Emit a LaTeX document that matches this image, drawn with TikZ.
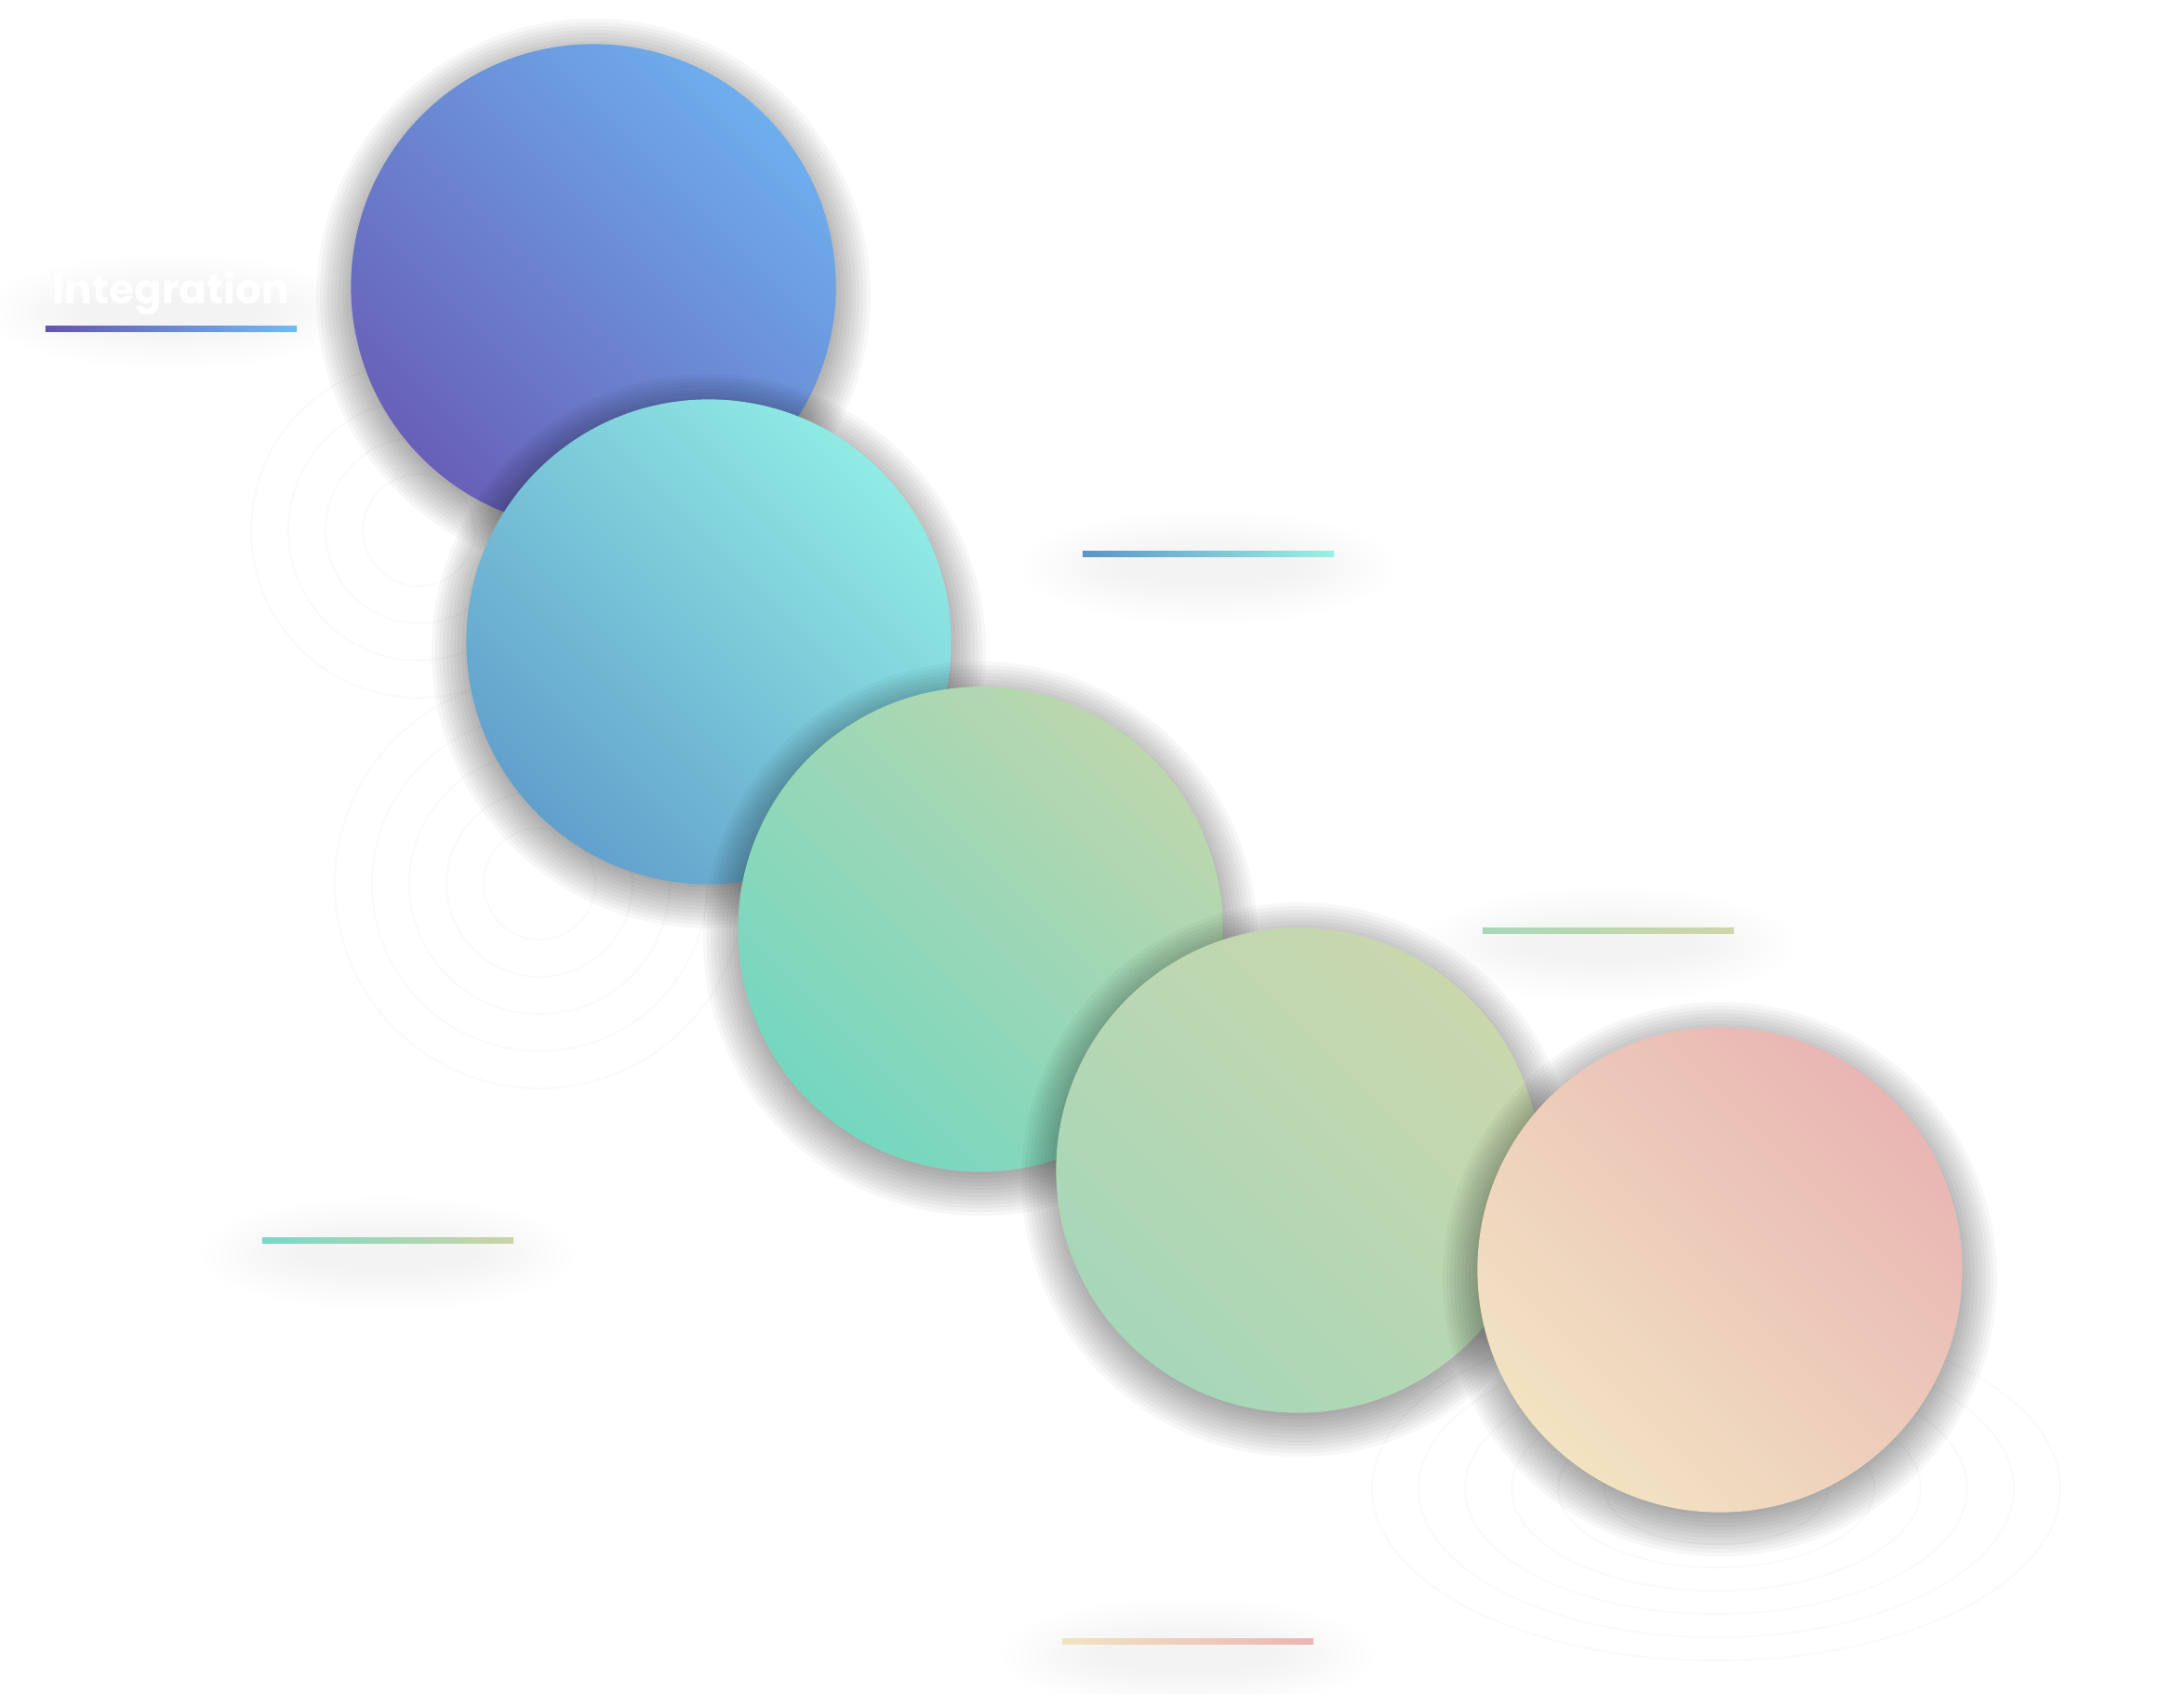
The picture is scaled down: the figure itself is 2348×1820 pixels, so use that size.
\documentclass[tikz,border=0pt]{standalone}
\usepackage{fontspec}
\setmainfont{Poppins}
\definecolor{aA}{HTML}{6860B8}\definecolor{aB}{HTML}{6EAEEC}
\definecolor{bA}{HTML}{62A0CC}\definecolor{bB}{HTML}{90EBE4}
\definecolor{cA}{HTML}{74D7C0}\definecolor{cB}{HTML}{BDD7AD}
\definecolor{dA}{HTML}{A6D7B8}\definecolor{dB}{HTML}{CAD7AC}
\definecolor{eA}{HTML}{F2E3C2}\definecolor{eB}{HTML}{E9B5B3}
\definecolor{lA1}{HTML}{6454B0}\definecolor{lB1}{HTML}{70BCF4}
\definecolor{lA2}{HTML}{5B95C8}\definecolor{lB2}{HTML}{98F2E4}
\definecolor{lA3}{HTML}{A8D8B8}\definecolor{lB3}{HTML}{D0D4A8}
\definecolor{lA4}{HTML}{78D8C8}\definecolor{lB4}{HTML}{CDD4A4}
\definecolor{lA5}{HTML}{F0E4C0}\definecolor{lB5}{HTML}{ECB4B4}
\newcommand\ballshadow[1]{\foreach \i in {0,...,19} \fill[black, fill opacity=0.032] ([yshift=-0.1cm]#1) circle[radius={298-4*\i}];}
\newcommand\barglow[1]{\foreach \i in {0,...,11} \fill[black, fill opacity=0.0045] (#1) ellipse[x radius={200-9*\i}, y radius={62-4*\i}];}
\tikzset{
  ball/.style={circle, minimum size=5.21cm, inner sep=0pt, draw=none},
  bar/.style={rectangle, minimum width=2.70cm, minimum height=0.06cm, inner sep=0pt, draw=none},
  ring/.style={draw=black, draw opacity=0.018, line width=0.6pt},
}
\begin{document}
\begin{tikzpicture}[x=0.01cm, y=-0.01cm]
\useasboundingbox (0,0) rectangle (2348,1820);
\fill[white] (0,0) rectangle (2348,1820);
\coordinate (p1) at (638,308);
\coordinate (p2) at (762,690);
\coordinate (p3) at (1054,999);
\coordinate (p4) at (1396,1258);
\coordinate (p5) at (1849,1365);
% faint decorative rings
\foreach \r in {60,100,140,180} \draw[ring] (450,570) circle[radius=\r];
\foreach \r in {60,100,140,180,220} \draw[ring] (580,950) circle[radius=\r];
\foreach \r in {120,170,220,270,320,370} \draw[ring] (1845,1600) ellipse[x radius=\r, y radius=0.5*\r];
% glows behind title and lines
\coordinate (g1) at (184,335);
\coordinate (g2) at (1299,610);
\coordinate (g3) at (1729,1015);
\coordinate (g4) at (417,1348);
\coordinate (g5) at (1277,1779);
\barglow{g1}\barglow{g2}\barglow{g3}\barglow{g4}\barglow{g5}
% gradient lines
\node[bar, left color=lA1, right color=lB1] (l1) at (184,353) {};
\node[bar, left color=lA2, right color=lB2] (l2) at (1299,595) {};
\node[bar, left color=lA3, right color=lB3] (l3) at (1729,1000) {};
\node[bar, left color=lA4, right color=lB4] (l4) at (417,1333) {};
\node[bar, left color=lA5, right color=lB5] (l5) at (1277,1764) {};
% title
\node[text=white, font=\bfseries\fontsize{12.5pt}{14pt}\selectfont, anchor=base] (t1) at (184,326) {Integration};
% circles with soft shadows
\ballshadow{p1}
\node[ball, left color=aA, right color=aB, shading angle=135] (c1) at (p1) {};
\ballshadow{p2}
\node[ball, left color=bA, right color=bB, shading angle=135] (c2) at (p2) {};
\ballshadow{p3}
\node[ball, left color=cA, right color=cB, shading angle=135] (c3) at (p3) {};
\ballshadow{p4}
\node[ball, left color=dA, right color=dB, shading angle=135] (c4) at (p4) {};
\ballshadow{p5}
\node[ball, left color=eA, right color=eB, shading angle=135] (c5) at (p5) {};
\end{tikzpicture}
\end{document}
